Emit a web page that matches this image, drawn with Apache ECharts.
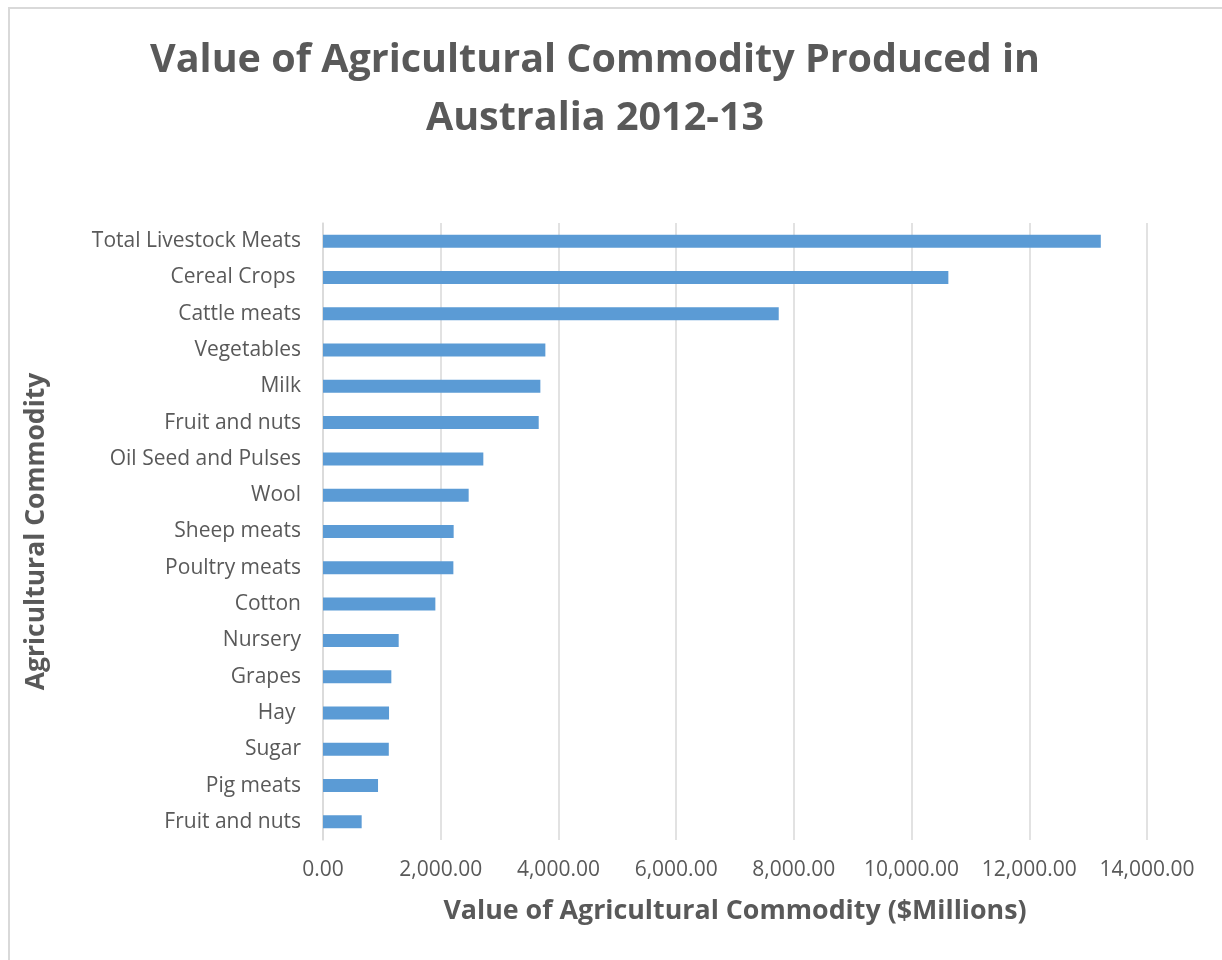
<!DOCTYPE html>
<html>
<head>
<meta charset="utf-8">
<script src="https://cdn.jsdelivr.net/npm/echarts@6/dist/echarts.min.js"></script>
<style>
  body { margin: 0; background: #fff; }
  #frame { position: absolute; left: 8px; top: 7px; width: 1400px; height: 1100px; border: 2px solid #d9d9d9; }
  #main { position: absolute; left: 0; top: 0; width: 1222px; height: 960px; }
</style>
</head>
<body>
<div id="frame"></div>
<div id="main"></div>
<script>
var categories = ['Total Livestock Meats', 'Cereal Crops ', 'Cattle meats', 'Vegetables', 'Milk',
    'Fruit and nuts', 'Oil Seed and Pulses', 'Wool', 'Sheep meats', 'Poultry meats', 'Cotton',
    'Nursery', 'Grapes', 'Hay ', 'Sugar', 'Pig meats', 'Fruit and nuts'];
var values = [13215, 10625, 7743, 3778, 3693, 3665, 2724, 2475, 2220, 2215, 1909,
    1286, 1161, 1122, 1118, 935, 657];
var xTicks = { min: 0, max: 14000, step: 2000 };

var textColor = '#595959';
var font = "'Open Sans', sans-serif";

var chart = echarts.init(document.getElementById('main'));

var option = {
    animation: false,
    title: {
        text: 'Value of Agricultural Commodity Produced in\nAustralia 2012-13',
        left: 590,
        top: 27,
        textAlign: 'center',
        textStyle: {
            color: textColor,
            fontFamily: font,
            fontWeight: 'bold',
            fontSize: 39.5,
            lineHeight: 58
        }
    },
    grid: {
        left: 323,
        right: 75,
        top: 223,
        bottom: 120
    },
    xAxis: {
        type: 'value',
        min: xTicks.min,
        max: xTicks.max,
        interval: xTicks.step,
        name: 'Value of Agricultural Commodity ($Millions)',
        nameLocation: 'middle',
        nameGap: 58,
        nameTextStyle: { color: textColor, fontFamily: font, fontWeight: 'bold', fontSize: 26.8 },
        axisLine: { show: false },
        axisTick: { show: false },
        axisLabel: {
            color: textColor,
            fontFamily: font,
            fontSize: 21,
            margin: 20,
            formatter: function (v) {
                return v.toLocaleString('en-US', { minimumFractionDigits: 2, maximumFractionDigits: 2 });
            }
        },
        splitLine: { show: true, lineStyle: { color: '#d9d9d9', width: 1.5 } }
    },
    yAxis: {
        type: 'category',
        inverse: true,
        data: categories,
        name: 'Agricultural Commodity',
        nameLocation: 'middle',
        nameRotate: 90,
        nameGap: 273,
        nameTextStyle: { color: textColor, fontFamily: font, fontWeight: 'bold', fontSize: 26.5 },
        axisLine: { show: true, lineStyle: { color: '#d9d9d9', width: 1.5 } },
        axisTick: { show: false },
        axisLabel: {
            color: textColor,
            fontFamily: font,
            fontSize: 21,
            margin: 22,
            interval: 0
        }
    },
    series: [{
        type: 'bar',
        data: values,
        barWidth: 13,
        itemStyle: { color: '#5b9bd5' }
    }]
};

chart.setOption(option);
</script>
</body>
</html>
